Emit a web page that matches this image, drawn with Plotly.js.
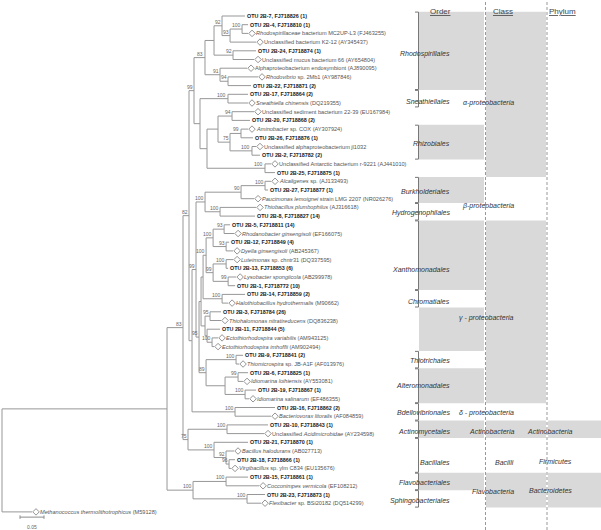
<!DOCTYPE html>
<html><head><meta charset="utf-8">
<script src="https://cdn.plot.ly/plotly-3.0.1.min.js"></script>
<style>html,body{margin:0;padding:0;background:#fff}</style>
</head><body><div id="chart" style="width:601px;height:530px"></div>
<script>
// ---------------- DATA ----------------
// Tree topology with branch lengths (substitutions/site) and bootstrap values
const alphaClade = "((((t1:0.0479,((t2:0.0125,t3:0.0125)100:0.025,t4:0.0542)93:0.0167)92:0.0167,(t5:0.0479,t6:0.0438)92:0.0396):0.0188,(t7:0.0563,(t8:0.0625,t9:0.0479)94:0.0167)91:0.0313)83:0.0229,((t10:0.0417,t11:0.0417)100:0.0583,(((t12:0.0458,t13:0.0375)94:0.0292,((t14:0.0146,t15:0.025)99:0.0229,(t16:0.0083,t17:0.0167)100:0.0458)75:0.025):0.0229,(t18:0.0125,t19:0.0208)100:0.1208):0.0146):0.0125)99";
const betaClade = "(((t20:0.0125,t21:0.0063)100:0.05,t22:0.0271)90:0.075,(t23:0.075,t24:0.0729)100:0.0313)100";
const xanthoClade = "(((t25:0.0125,t26:0.0208)93:0.0229,(t27:0.0063,t28:0.0146)93:0.0271)100:0.0146,((t29:0.0146,t30:0.0042)100:0.0271,(t31:0.0167,t32:0.0146)99:0.0313)99:0.0146)100";
const chromaClade = "(t33:0.0479,t34:0.0125)100";
const ectoClade = "((t35:0.0229,t36:0.0229)95:0.0104,(t37:0.0271,(t38:0.0125,t39:0.0042)100:0.0104):0.0042)";
const thioAlteroClade = "((t40:0.0146,t41:0.0063)100:0.0625,((t42:0.0208,t43:0.0104)99:0.0271,(t44:0.0229,t45:0.0083)100:0.0417):0.0396)89";
const gammaClade = "(((" + xanthoClade + ":0.0063," + chromaClade + ":0.0396):0.0042," + ectoClade + ":0.0083):0.0042," + thioAlteroClade + ":0.0146)95";
const deltaClade = "(t46:0.0833,t47:0.075)100";
const gramPosClade = "((t48:0.0854,t49:0.0771)100:0.0813,(t50:0.0708,(t51:0.0167,(t52:0.0125,t53:0.0042)96:0.0063)92:0.025)100:0.0542)75";
const bacteroClade = "((t54:0.0458,t55:0.0688)100:0.0688,(t56:0.0375,t57:0.0292)100:0.1125)100";
const newick = "((((" + alphaClade + ":0.0104,((" + betaClade + ":0.0188," + gammaClade + ":0.0063)99:0.0083," + deltaClade + ":0.0896):0.0063)82:0.0125," + gramPosClade + ":0.0104)83:0.0333," + bacteroClade + ":0.0542):0.3438,t58:0.0625);";

const leafText = [
 "OTU 2B-7, FJ718826 (1)",
 "OTU 2B-4, FJ718810 (1)",
 "<i>Rhodospirillaceae</i> bacterium MC2UP-L3 (FJ463255)",
 "Unclassified bacterium K2-12 (AY345437)",
 "OTU 2B-24, FJ718874 (1)",
 "Unclassified mucus bacterium 66 (AY654804)",
 "Alphaproteobacterium endosymbiont (AJ890095)",
 "<i>Rhodovibrio</i> sp. 2Mb1 (AY987846)",
 "OTU 2B-22, FJ718871 (2)",
 "OTU 2B-17, FJ718864 (2)",
 "<i>Sneathiella chinensis</i> (DQ219355)",
 "Unclassified sediment bacterium 22-39 (EU167984)",
 "OTU 2B-20, FJ718868 (2)",
 "<i>Aminobacter</i> sp. COX (AY307924)",
 "OTU 2B-26, FJ718876 (1)",
 "Unclassified alphaproteobacterium jl1032",
 "OTU 2B-2, FJ718782 (2)",
 "Unclassified Antarctic bacterium r-9221 (AJ441010)",
 "OTU 2B-25, FJ718875 (1)",
 "<i>Alcaligenes</i> sp. (AJ133493)",
 "OTU 2B-27, FJ718877 (1)",
 "<i>Paucimonas lemoignei</i> strain LMG 2207 (NR026276)",
 "<i>Thiobacillus plumbophilus</i> (AJ316618)",
 "OTU 2B-8, FJ718827 (14)",
 "OTU 2B-5, FJ718811 (14)",
 "<i>Rhodanobacter ginsengisoli</i> (EF166075)",
 "OTU 2B-12, FJ718849 (4)",
 "<i>Dyella ginsengisoli</i> (AB245367)",
 "<i>Luteimonas</i> sp. chntr31 (DQ337595)",
 "OTU 2B-13, FJ718853 (6)",
 "<i>Lysobacter spongiicola</i> (AB299978)",
 "OTU 2B-1, FJ718772 (10)",
 "OTU 2B-14, FJ718859 (2)",
 "<i>Halothiobacillus hydrothermalis</i> (M90662)",
 "OTU 2B-3, FJ718784 (26)",
 "<i>Thiohalomonas nitratireducens</i> (DQ836238)",
 "OTU 2B-11, FJ718844 (5)",
 "<i>Ectothiorhodospira variabilis</i> (AM943125)",
 "<i>Ectothiorhodospira imhoffii</i> (AM902494)",
 "OTU 2B-9, FJ718841 (2)",
 "<i>Thiomicrospira</i> sp. JB-A1F (AF013976)",
 "OTU 2B-6, FJ718825 (1)",
 "<i>Idiomarina loihiensis</i> (AY553081)",
 "OTU 2B-19, FJ718867 (1)",
 "<i>Idiomarina salinarum</i> (EF486355)",
 "OTU 2B-16, FJ718862 (2)",
 "<i>Bacteriovorax litoralis</i> (AF084859)",
 "OTU 2B-10, FJ718843 (1)",
 "Unclassified <i>Acidimicrobidae</i> (AY234598)",
 "OTU 2B-21, FJ718870 (1)",
 "<i>Bacillus halodurans</i> (AB027713)",
 "OTU 2B-18, FJ718866 (1)",
 "<i>Virgibacillus</i> sp. ylm C834 (EU135676)",
 "OTU 2B-15, FJ718861 (1)",
 "<i>Cocconimpes vermicola</i> (EF108212)",
 "OTU 2B-23, FJ718873 (1)",
 "<i>Flexibacter</i> sp. BSi20182 (DQ514299)",
 "<i>Methanococcus thermolithotrophicus</i> (M59128)"
];

const orderNames = ["Rhodospirillales","Sneathiellales","Rhizobiales","Burkholderiales","Hydrogenophilales","Xanthomonadales","Chromatiales","","Thiotrichales","Alteromonadales","Bdellovibrionales","Actinomycetales","Bacillales","Flavobacteriales","Sphingobacteriales"];
const orderFirst = [1,10,14,20,23,25,33,35,40,42,46,48,50,54,56];
const orderLast  = [9,11,17,22,24,32,34,39,41,45,47,49,53,55,57];
const orderShaded= [1,0,1,1,0,1,0,1,0,1,0,1,0,1,0];
const orderLabelRow=[5.4,10.8,15.7,21.2,23.7,30.1,33.8,37,40.6,43.5,46.6,48.8,52.3,54.6,56.7];

const classNames = ["α-proteobacteria","β-proteobacteria","γ - proteobacteria","δ - proteobacteria","Actinobacteria","Bacilli","Flavobacteria"];
const classFirst = [1,20,25,46,48,50,54];
const classLast  = [19,24,45,47,49,53,57];
const classShaded= [1,0,1,0,1,0,1];
const classLabelRow=[11,22.8,35.7,46.6,48.8,52.3,55.6];

const phylumNames = ["Actinobacteria","Firmicutes","Bacteroidetes"];
const phylumFirst = [48,50,54];
const phylumLast  = [49,53,57];
const phylumShaded= [1,0,1];
const phylumLabelRow=[48.8,52.2,55.5];

const scaleValue = 0.05;
const scaleText = "0.05";

// ---------------- LAYOUT HELPERS ----------------
const W=601,H=530;
const pxPerUnit=480, rootPx=2;
const rowY0=16,rowStep=8.7;
const FONT='Liberation Sans, Arial, sans-serif';
function pxd(p){return p/pxPerUnit;}
function paperX(p){return p/W;}

function parseNewick(str){
  let i=0;
  function node(){
    const n={children:[],name:'',len:0};
    if(str[i]==='('){
      i++; n.children.push(node());
      while(str[i]===','){i++; n.children.push(node());}
      i++;
    }
    let nm='';
    while(i<str.length && !',():;'.includes(str[i])) nm+=str[i++];
    n.name=nm.trim();
    if(str[i]===':'){i++; let num=''; while(i<str.length && !',();'.includes(str[i])) num+=str[i++]; n.len=parseFloat(num);}
    return n;
  }
  return node();
}
const tree=parseNewick(newick);
let rowCount=0; const leaves=[], internals=[];
(function lay(n,x){
  n.x=x;
  if(!n.children.length){rowCount++; n.y=rowCount; leaves.push(n);}
  else{ n.children.forEach(c=>lay(c,x+c.len)); n.y=(n.children[0].y+n.children[n.children.length-1].y)/2; internals.push(n);}
})(tree,0);

const lx=[],ly=[];
(function seg(n){
  n.children.forEach(c=>{lx.push(n.x,c.x,null); ly.push(c.y,c.y,null); seg(c);});
  if(n.children.length){lx.push(n.x,n.x,null); ly.push(n.children[0].y,n.children[n.children.length-1].y,null);}
})(tree);

const traces=[];
traces.push({x:lx,y:ly,mode:'lines',type:'scatter',line:{color:'#979797',width:1},hoverinfo:'skip'});

const annotations=[];
const dx=[],dy=[];
leaves.forEach(l=>{
  const idx=parseInt(l.name.slice(1))-1;
  const txt=leafText[idx];
  const isOTU=txt.startsWith('OTU');
  if(!isOTU){dx.push(l.x+pxd(4)); dy.push(l.y);}
  annotations.push({x:l.x+pxd(isOTU?1:7),y:l.y,xref:'x',yref:'y',xanchor:'left',yanchor:'middle',showarrow:false,borderpad:0,
    text:isOTU?'<b>'+txt+'</b>':txt,font:{family:FONT,size:isOTU?5.4:5.6,color:isOTU?'#1a1a1a':'#555'}});
});
traces.push({x:dx,y:dy,mode:'markers',type:'scatter',marker:{symbol:'diamond-open',size:5,color:'#777',line:{width:0.8,color:'#777'}},hoverinfo:'skip'});

internals.forEach(n=>{
  if(n.name){
    annotations.push({x:n.x-pxd(0.5),y:n.y,xref:'x',yref:'y',xanchor:'right',yanchor:'bottom',showarrow:false,borderpad:0,
      text:n.name,font:{family:FONT,size:5,color:'#666'}});
  }
});

// scale bar
const sb0=pxd(20-rootPx), sbRow=58.6;
traces.push({x:[sb0,sb0+scaleValue,null,sb0,sb0,null,sb0+scaleValue,sb0+scaleValue],y:[sbRow,sbRow,null,sbRow-0.2,sbRow+0.2,null,sbRow-0.2,sbRow+0.2],mode:'lines',type:'scatter',line:{color:'#8c8c8c',width:1},hoverinfo:'skip'});
annotations.push({x:sb0+scaleValue/2,y:sbRow+1.1,xref:'x',yref:'y',showarrow:false,text:scaleText,font:{family:FONT,size:5,color:'#666'},borderpad:0});

// table
const shapes=[];
const GRAY='#d9d9d9';
function addCol(names,first,last,shaded,labelRow,x0,x1,cx,bracket){
  names.forEach((nm,i)=>{
    if(shaded[i]) shapes.push({type:'rect',xref:'paper',yref:'y',x0:paperX(x0),x1:paperX(x1),y0:first[i]-0.5,y1:last[i]+0.5,fillcolor:GRAY,line:{width:0},layer:'below'});
    if(bracket && nm){
      const a=first[i]-0.45,b=last[i]+0.45,xa=paperX(415),xb=paperX(418.5);
      shapes.push({type:'path',xref:'paper',yref:'y',path:`M ${xa} ${a} L ${xb} ${a} L ${xb} ${b} L ${xa} ${b}`,line:{color:'#777',width:1}});
    }
    if(nm) annotations.push({x:paperX(cx),y:labelRow[i],xref:'paper',yref:'y',showarrow:false,borderpad:0,text:'<i>'+nm+'</i>',font:{family:FONT,size:7,color:'#333'}});
  });
}
addCol(orderNames,orderFirst,orderLast,orderShaded,orderLabelRow,419,484,451,true);
addCol(classNames,classFirst,classLast,classShaded,classLabelRow,486,546,515,false);
addCol(phylumNames,phylumFirst,phylumLast,phylumShaded,phylumLabelRow,548,601,573,false);
[485.5,547].forEach(p=>shapes.push({type:'line',xref:'paper',yref:'paper',x0:paperX(p),x1:paperX(p),y0:0,y1:1,line:{color:'#999',width:1,dash:'3px,2px'}}));
[["Order",452],["Class",514],["Phylum",577]].forEach(h=>annotations.push({x:paperX(h[1]),y:1-6/H,xref:'paper',yref:'paper',showarrow:false,borderpad:0,text:'<u>'+h[0]+'</u>',font:{family:FONT,size:8,color:'#444'}}));

const layout={width:W,height:H,margin:{l:0,r:0,t:0,b:0},showlegend:false,paper_bgcolor:'#fff',plot_bgcolor:'#fff',
  xaxis:{visible:false,range:[-pxd(rootPx),pxd(W-rootPx)],fixedrange:true},
  yaxis:{visible:false,range:[1+(H-rowY0)/rowStep,1-rowY0/rowStep],fixedrange:true},
  shapes:shapes,annotations:annotations,hovermode:false};
Plotly.newPlot('chart',traces,layout,{staticPlot:true,displayModeBar:false});
</script></body></html>
